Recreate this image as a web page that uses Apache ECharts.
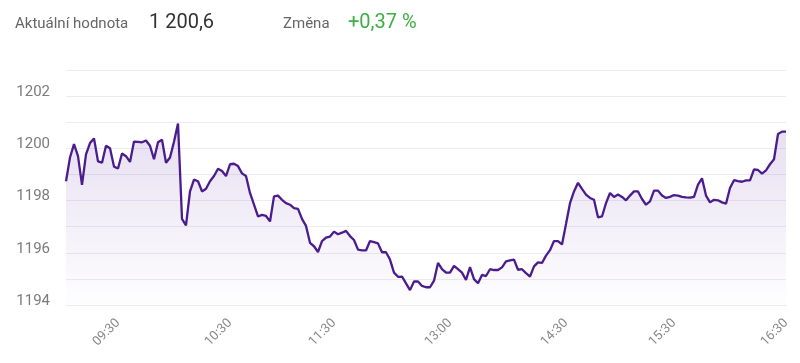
<!DOCTYPE html>
<html><head><meta charset="utf-8">
<script src="https://cdn.jsdelivr.net/npm/echarts@6/dist/echarts.min.js"></script>
<style>html,body{margin:0;padding:0;background:#fff}#c{width:800px;height:363px}</style>
</head><body><div id="c"></div>
<script>
const headerLabel = 'Aktuální hodnota';
const headerValue = '1 200,6';
const changeLabel = 'Změna';
const changeValue = '+0,37 %';

const times = [
'09:02','09:04','09:06','09:08','09:10','09:12','09:14','09:16','09:18','09:20','09:22','09:24','09:27','09:30',
'09:32','09:34','09:36','09:39','09:41','09:43','09:45','09:47','09:49','09:51','09:54','09:56','09:58','10:00','10:02','10:04','10:06','10:09','10:11','10:13','10:15','10:17','10:19','10:21','10:24','10:26','10:28','10:30',
'10:32','10:35','10:37','10:39','10:42','10:44','10:46','10:49','10:51','10:53','10:56','10:58','11:00','11:03','11:05','11:07','11:10','11:12','11:14','11:17','11:19','11:21','11:24','11:26','11:28','11:30',
'11:33','11:36','11:39','11:42','11:45','11:48','11:51','11:54','11:57','12:00','12:04','12:07','12:10','12:13','12:16','12:19','12:22','12:25','12:28','12:32','12:35','12:38','12:41','12:44','12:47','12:50','12:53','12:56','13:00',
'13:03','13:06','13:09','13:12','13:15','13:18','13:21','13:24','13:27','13:30','13:34','13:37','13:40','13:43','13:46','13:49','13:52','13:55','13:58','14:02','14:05','14:08','14:11','14:14','14:17','14:20','14:23','14:26','14:30',
'14:32','14:34','14:37','14:39','14:41','14:43','14:46','14:48','14:50','14:52','14:55','14:57','14:59','15:01','15:04','15:06','15:08','15:10','15:13','15:15','15:17','15:19','15:22','15:24','15:26','15:28','15:30',
'15:32','15:34','15:36','15:39','15:41','15:43','15:45','15:47','15:49','15:51','15:54','15:56','15:58','16:00','16:02','16:04','16:06','16:09','16:11','16:13','16:15','16:17','16:19','16:21','16:24','16:26','16:28','16:30'
];

const values = [
1198.74,1199.65,1200.16,1199.7,1198.6,1199.77,1200.2,1200.38,1199.5,1199.45,1200.1,1200.0,1199.3,1199.23,
1199.8,1199.7,1199.48,1200.26,1200.25,1200.23,1200.3,1200.1,1199.58,1200.23,1200.33,1199.45,1199.65,1200.25,1200.95,1197.3,1197.05,1198.35,1198.8,1198.74,1198.35,1198.45,1198.74,1198.94,1199.22,1199.13,1198.94,1199.39,
1199.41,1199.32,1199.04,1198.94,1198.29,1197.84,1197.39,1197.45,1197.41,1197.2,1198.16,1198.19,1198.03,1197.9,1197.84,1197.71,1197.68,1197.3,1197.03,1196.38,1196.25,1196.03,1196.45,1196.58,1196.62,1196.81,
1196.71,1196.77,1196.84,1196.64,1196.49,1196.12,1196.09,1196.09,1196.45,1196.41,1196.36,1196.02,1196.02,1195.74,1195.24,1195.08,1195.09,1194.83,1194.57,1194.9,1194.9,1194.73,1194.68,1194.68,1194.93,1195.61,1195.37,1195.24,1195.24,
1195.5,1195.37,1195.24,1194.96,1195.45,1194.99,1194.83,1195.15,1195.11,1195.37,1195.34,1195.34,1195.44,1195.67,1195.71,1195.74,1195.35,1195.37,1195.22,1195.09,1195.48,1195.63,1195.61,1195.89,1196.1,1196.45,1196.45,1196.32,1197.1,
1197.9,1198.35,1198.68,1198.45,1198.23,1198.1,1198.03,1197.36,1197.39,1197.9,1198.29,1198.14,1198.23,1198.14,1198.01,1198.19,1198.35,1198.35,1198.06,1197.84,1197.97,1198.38,1198.38,1198.19,1198.1,1198.14,1198.21,
1198.19,1198.14,1198.12,1198.11,1198.14,1198.61,1198.85,1198.19,1197.93,1198.03,1198.01,1197.93,1197.88,1198.48,1198.78,1198.74,1198.72,1198.77,1198.77,1199.19,1199.17,1199.03,1199.16,1199.39,1199.58,1200.55,1200.64,1200.64
];

const xTickLabels = ['09:30','10:30','11:30','13:00','14:30','15:30','16:30'];
const yTickLabels = [1194, 1196, 1198, 1200, 1202];

const chart = echarts.init(document.getElementById('c'), null, {renderer: 'canvas'});
chart.setOption({
  animation: false,
  graphic: [
    {type: 'text', x: 15, y: 24, style: {text: headerLabel, font: '15px Roboto', fill: '#666', verticalAlign: 'middle'}},
    {type: 'text', x: 149, y: 23, style: {text: headerValue, font: '20px Roboto', fill: '#333', verticalAlign: 'middle'}},
    {type: 'text', x: 283, y: 24, style: {text: changeLabel, font: '15px Roboto', fill: '#666', verticalAlign: 'middle'}},
    {type: 'text', x: 348, y: 23, style: {text: changeValue, font: '20px Roboto', fill: '#3cb043', verticalAlign: 'middle'}}
  ],
  grid: {left: 66, right: 14, top: 70, bottom: 58},
  xAxis: {
    type: 'category', data: times, boundaryGap: false,
    axisLine: {lineStyle: {color: '#ebebf0'}},
    axisTick: {show: false},
    axisLabel: {interval: (i, v) => xTickLabels.includes(v), rotate: 45, color: '#888', fontSize: 13, fontFamily: 'Roboto', margin: 16},
    splitLine: {show: false}
  },
  yAxis: {
    type: 'value', min: 1194, max: 1203, interval: 1,
    axisLine: {show: false}, axisTick: {show: false},
    axisLabel: {formatter: v => yTickLabels.includes(v) ? String(v) : '', color: '#7c7c7c', fontSize: 15, fontFamily: 'Roboto', margin: 16, verticalAlign: 'bottom', lineHeight: 8},
    splitLine: {lineStyle: {color: '#ececf0'}}
  },
  series: [{
    type: 'line', data: values, symbol: 'none', smooth: false,
    lineStyle: {color: '#4b1c8c', width: 2.3},
    areaStyle: {color: new echarts.graphic.LinearGradient(0, 0, 0, 1, [
      {offset: 0, color: 'rgba(106,61,170,0.24)'},
      {offset: 1, color: 'rgba(106,61,170,0.01)'}
    ])}
  }]
});
</script></body></html>
